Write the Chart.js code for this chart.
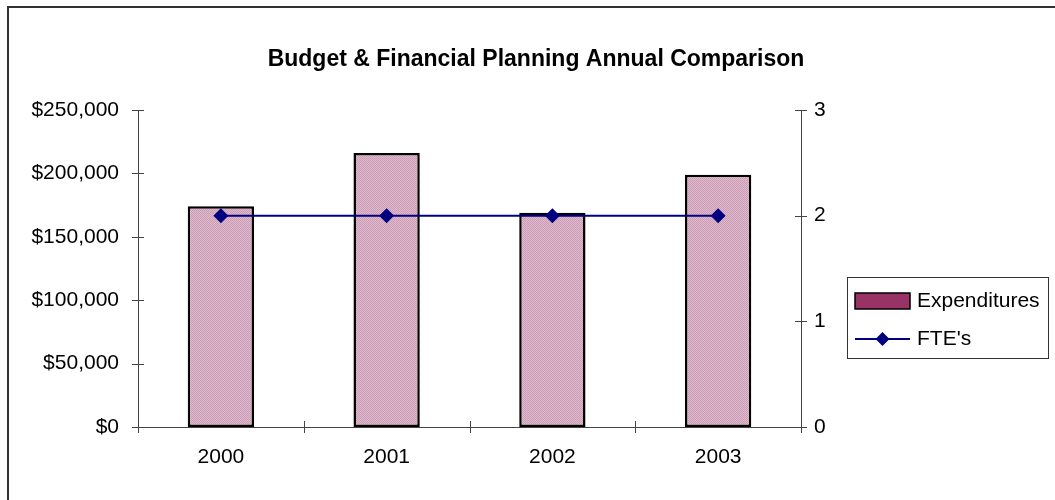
<!DOCTYPE html>
<html><head><meta charset="utf-8">
<script src="https://cdn.jsdelivr.net/npm/chart.js@4"></script>
<style>
html,body{margin:0;padding:0;background:#fff;overflow:hidden}
#wrap{position:relative;width:1055px;height:500px}
#frame{position:absolute;left:7px;top:6px;width:1100px;height:600px;border-top:2px solid #333;border-left:2px solid #333;pointer-events:none}
</style></head><body>
<div id="wrap"><canvas id="c" width="1055" height="500"></canvas><div id="frame"></div></div>
<script>
const chartTitle = 'Budget & Financial Planning Annual Comparison';
const years = ['2000', '2001', '2002', '2003'];
const expenditures = [174000, 216000, 169000, 199000];
const ftes = [2, 2, 2, 2];
const seriesNames = ['Expenditures', "FTE's"];

const FONT = '"Liberation Sans", Arial, sans-serif';
const AXIS = '#444';
const NAVY = '#000080';

function makePattern() {
  const p = document.createElement('canvas');
  p.width = 2; p.height = 2;
  const g = p.getContext('2d');
  g.fillStyle = '#DFBACD'; g.fillRect(0, 0, 2, 2);
  g.fillStyle = '#CA9CB5'; g.fillRect(0, 0, 1, 1); g.fillRect(1, 1, 1, 1);
  return document.getElementById('c').getContext('2d').createPattern(p, 'repeat');
}

const crossTicks = {
  id: 'crossTicks',
  afterDatasetsDraw(chart) {
    const { ctx, chartArea: a, scales } = chart;
    const L = 6;
    ctx.save();
    ctx.strokeStyle = AXIS; ctx.lineWidth = 1;
    const ln = (x1, y1, x2, y2) => { ctx.beginPath(); ctx.moveTo(x1, y1); ctx.lineTo(x2, y2); ctx.stroke(); };
    scales.y.ticks.forEach((t, i) => { const y = Math.round(scales.y.getPixelForTick(i)) + 0.5; ln(a.left - L, y, a.left + L, y); });
    scales.y1.ticks.forEach((t, i) => { const y = Math.round(scales.y1.getPixelForTick(i)) + 0.5; ln(a.right - L, y, a.right + L, y); });
    const n = years.length;
    for (let i = 0; i <= n; i++) {
      const x = Math.round(a.left + i * (a.right - a.left) / n) + 0.5;
      ln(x, a.bottom - L, x, a.bottom + L);
    }
    ctx.restore();
  }
};

const titleLegend = {
  id: 'titleLegend',
  afterDraw(chart) {
    const ctx = chart.ctx;
    const ds = chart.data.datasets;
    const barDs = ds.find(d => d.type === 'bar');
    const lineDs = ds.find(d => d.type === 'line');
    ctx.save();
    ctx.fillStyle = '#000';
    ctx.font = 'bold 23px ' + FONT;
    ctx.textAlign = 'center'; ctx.textBaseline = 'middle';
    ctx.fillText(chartTitle, 536, 60);
    // legend box
    ctx.strokeStyle = '#333'; ctx.lineWidth = 1;
    ctx.strokeRect(847.5, 277.5, 201, 81);
    // bar swatch
    ctx.fillStyle = '#993366'; ctx.fillRect(855, 293, 55, 16);
    ctx.strokeStyle = '#000'; ctx.lineWidth = 1.5; ctx.strokeRect(855, 293, 55, 16);
    // line swatch
    ctx.strokeStyle = NAVY; ctx.lineWidth = 2;
    ctx.beginPath(); ctx.moveTo(855, 339); ctx.lineTo(910, 339); ctx.stroke();
    ctx.fillStyle = NAVY;
    ctx.beginPath(); ctx.moveTo(882.5 - 7, 339); ctx.lineTo(882.5, 332); ctx.lineTo(889.5, 339); ctx.lineTo(882.5, 346); ctx.closePath(); ctx.fill();
    ctx.fillStyle = '#000';
    ctx.font = '21px ' + FONT;
    ctx.textAlign = 'left';
    ctx.fillText(barDs.label, 917, 301);
    ctx.fillText(lineDs.label, 917, 339);
    ctx.restore();
  }
};

new Chart(document.getElementById('c'), {
  type: 'bar',
  data: {
    labels: years,
    datasets: [
      { type: 'line', label: seriesNames[1], data: ftes, yAxisID: 'y1', order: 0,
        borderColor: NAVY, borderWidth: 2, backgroundColor: NAVY, tension: 0,
        pointStyle: 'rectRot', pointRadius: 7.5, pointBorderWidth: 0, pointBackgroundColor: NAVY },
      { type: 'bar', label: seriesNames[0], data: expenditures, yAxisID: 'y', order: 1,
        backgroundColor: makePattern(), borderColor: '#000', borderWidth: 2.5, borderSkipped: false,
        barPercentage: 0.4, categoryPercentage: 1 }
    ]
  },
  options: {
    responsive: false, animation: false, devicePixelRatio: 1,
    layout: { padding: { top: 110, left: 0, right: 0, bottom: 0 } },
    plugins: { legend: { display: false }, title: { display: false }, tooltip: { enabled: false } },
    scales: {
      x: {
        grid: { display: false, drawTicks: false },
        border: { display: true, color: AXIS, width: 1 },
        ticks: { color: '#000', font: { family: FONT, size: 21 }, padding: 18, maxRotation: 0 },
        afterFit: s => { s.height = 73; }
      },
      y: {
        position: 'left', min: 0, max: 250000,
        grid: { display: false, drawTicks: false },
        border: { display: true, color: AXIS, width: 1 },
        ticks: { stepSize: 50000, color: '#000', font: { family: FONT, size: 21 }, padding: 19,
          callback: v => '$' + Number(v).toLocaleString('en-US') },
        afterFit: s => { s.width = 138; }
      },
      y1: {
        position: 'right', min: 0, max: 3,
        grid: { display: false, drawTicks: false },
        border: { display: true, color: AXIS, width: 1 },
        ticks: { stepSize: 1, color: '#000', font: { family: FONT, size: 21 }, padding: 13 },
        afterFit: s => { s.width = 254; }
      }
    }
  },
  plugins: [crossTicks, titleLegend]
});
</script>
</body></html>
